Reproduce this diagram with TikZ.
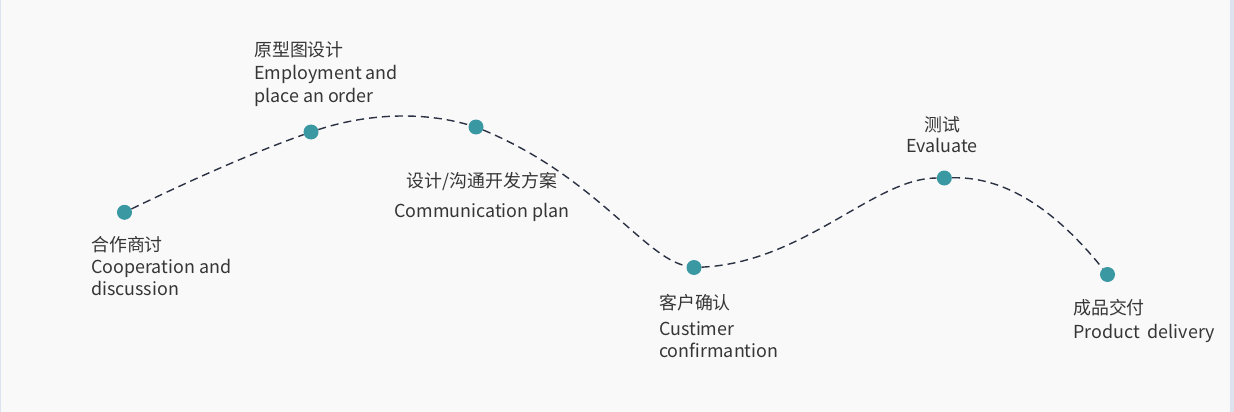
\documentclass[tikz,border=0pt]{standalone}
\usepackage{fontspec}
\setmainfont{Noto Sans CJK SC}
\definecolor{paper}{HTML}{F9F9FA}
\definecolor{edgeblue}{HTML}{DDE3EE}
\definecolor{dotteal}{HTML}{3A98A3}
\definecolor{trailnavy}{HTML}{2A3142}
\definecolor{inkgray}{HTML}{363636}

\begin{document}
\begin{tikzpicture}[x=1pt, y=-1pt,
    stagedot/.style={circle, fill=dotteal, inner sep=0pt, minimum size=15pt},
    trail/.style={draw=trailnavy, line width=1.4pt, dash pattern=on 8pt off 5pt},
    stagetext/.style={text=inkgray, font=\fontsize{17.9}{22}\selectfont, inner sep=0pt}]
    \fill[paper] (0,0) rectangle (1234,412);
    \useasboundingbox (0,0) rectangle (1234,412);
    \fill[edgeblue] (0,0) rectangle (1,412);
    \fill[edgeblue] (1230,0) rectangle (1234,412);

    % stages along the path
    \node (coop) [stagedot] at (124.5, 212.3) {};
    \node (proto) [stagedot] at (311, 132) {};
    \node (plan) [stagedot] at (476, 127) {};
    \node (confirm) [stagedot] at (694, 267.5) {};
    \node (test) [stagedot] at (944.3, 178) {};
    \node (deliver) [stagedot] at (1107.5, 274.5) {};

    \draw[trail] (coop) .. controls +(62,-30) and +(-62,22) .. (proto);
    \draw[trail] (proto) .. controls +(55,-18) and +(-55,-16) .. (plan);
    \draw[trail] (plan) .. controls +(120,50) and +(-50,-10) .. (confirm);
    \draw[trail] (confirm) .. controls +(110,-5) and +(-70,0) .. (test);
    \draw[trail] (test) .. controls +(70,-2) and +(-42,-52) .. (deliver);

    % labels, anchored on the baseline of their last line
    \node (coop-text) [stagetext, align=left, anchor=base west] at (91, 295)
        {合作商讨\\Cooperation and\\discussion};
    \node (proto-text) [stagetext, align=left, anchor=base west] at (254, 102)
        {原型图设计\\[2pt]Employment and\\place an order};
    \node (plan-text) [stagetext, align=center, anchor=base] at (482, 217)
        {设计/沟通开发方案\\[8pt]Communication plan};
    \node (confirm-text) [stagetext, align=left, anchor=base west] at (659, 357)
        {客户确认\\[4pt]Custimer\\confirmantion};
    \node (test-text) [stagetext, align=center, anchor=base] at (942, 152)
        {测试\\[-1pt]Evaluate};
    \node (deliver-text) [stagetext, align=left, anchor=base west] at (1073, 338)
        {成品交付\\[2pt]Product\ \ delivery};
\end{tikzpicture}
\end{document}
